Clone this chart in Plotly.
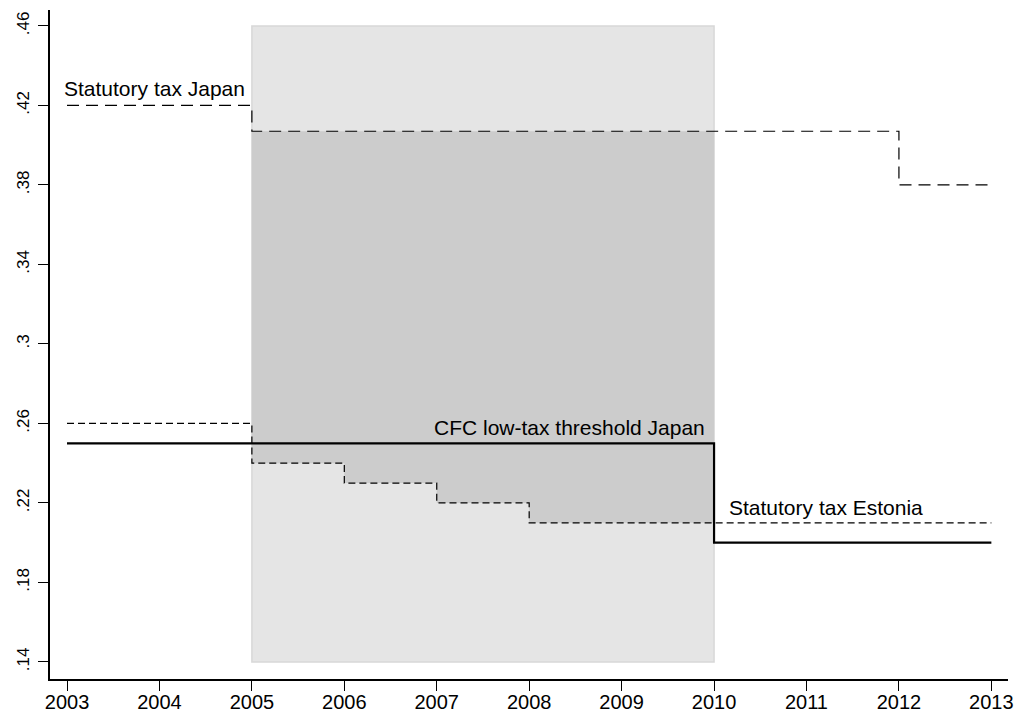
from plotly import graph_objs as go

years = [2003, 2004, 2005, 2006, 2007, 2008, 2009, 2010, 2011, 2012, 2013]
tax_japan = [0.42, 0.42, 0.407, 0.407, 0.407, 0.407, 0.407, 0.407, 0.407, 0.38, 0.38]
tax_estonia = [0.26, 0.26, 0.24, 0.23, 0.22, 0.21, 0.21, 0.21, 0.21, 0.21, 0.21]
cfc_threshold = [0.25, 0.25, 0.25, 0.25, 0.25, 0.25, 0.25, 0.20, 0.20, 0.20, 0.20]

shade_start = 2005
shade_end = 2010
y_ticks = [0.14, 0.18, 0.22, 0.26, 0.30, 0.34, 0.38, 0.42, 0.46]
y_tick_text = ['.14', '.18', '.22', '.26', '.3', '.34', '.38', '.42', '.46']

FONT = 'Liberation Sans, Arial, sans-serif'


def get_cfc_chart():
    fig = go.Figure()

    # window where Estonia is below the Japanese threshold
    i0 = years.index(shade_start)
    i1 = years.index(shade_end) + 1
    fig.add_trace(go.Scatter(x=years[i0:i1], y=tax_estonia[i0:i1], mode='lines',
                             line=dict(width=0, shape='hv'), hoverinfo='skip', showlegend=False))
    fig.add_trace(go.Scatter(x=years[i0:i1], y=tax_japan[i0:i1], mode='lines', fill='tonexty',
                             fillcolor='#cccccc', line=dict(width=0, shape='hv'),
                             hoverinfo='skip', showlegend=False))

    fig.add_trace(go.Scatter(x=years, y=tax_japan, mode='lines', name='Statutory tax Japan',
                             line=dict(color='black', width=1.2, dash='12px,7px', shape='hv')))
    fig.add_trace(go.Scatter(x=years, y=tax_estonia, mode='lines', name='Statutory tax Estonia',
                             line=dict(color='black', width=1.2, dash='7px,4px', shape='hv')))
    fig.add_trace(go.Scatter(x=years, y=cfc_threshold, mode='lines', name='CFC low-tax threshold Japan',
                             line=dict(color='black', width=2.2, shape='hv')))

    fig.add_shape(type='rect', xref='x', yref='y', x0=shade_start, x1=shade_end,
                  y0=y_ticks[0], y1=y_ticks[-1], fillcolor='#e5e5e5',
                  line=dict(color='#d8d8d8', width=1.5), layer='below')

    txt = dict(family=FONT, size=21, color='black')
    fig.add_annotation(x=2002.95, y=0.42, text='Statutory tax Japan', showarrow=False,
                       xanchor='left', yanchor='bottom', yshift=3, font=txt)
    fig.add_annotation(x=2009.92, y=0.25, text='CFC low-tax threshold Japan', showarrow=False,
                       xanchor='right', yanchor='bottom', yshift=2, font=txt)
    fig.add_annotation(x=2010.14, y=0.21, text='Statutory tax Estonia', showarrow=False,
                       xanchor='left', yanchor='bottom', yshift=2, font=txt)

    fig.update_layout(
        width=1017,
        height=713,
        xaxis=dict(range=[2002.816, 2013.18], tickvals=years, showline=True, linecolor='black',
                   linewidth=1.5, showgrid=False, zeroline=False, ticks='outside', ticklen=10,
                   tickwidth=1.3, tickcolor='black', automargin=False, ticklabelstandoff=-6,
                   tickfont=dict(family=FONT, size=20, color='black')),
        yaxis=dict(range=[0.1314, 0.468], tickvals=y_ticks, ticktext=y_tick_text, tickangle=-90,
                   showline=True, linecolor='black', linewidth=1.5, showgrid=False, zeroline=False,
                   ticks='outside', ticklen=10, tickwidth=1.3, tickcolor='black', automargin=False,
                   ticklabelstandoff=2, tickfont=dict(family=FONT, size=17, color='black')),
        margin=dict(l=50, r=9, t=10, b=34),
        showlegend=False,
        plot_bgcolor='white',
        paper_bgcolor='white'
    )
    return fig


fig = get_cfc_chart()
# drop the default page margin so the 1017x713 figure sits at the window's corner
fig.write_html("out.html", config=dict(displayModeBar=False),
               post_script="document.body.style.margin='0';document.body.style.overflow='hidden';")
